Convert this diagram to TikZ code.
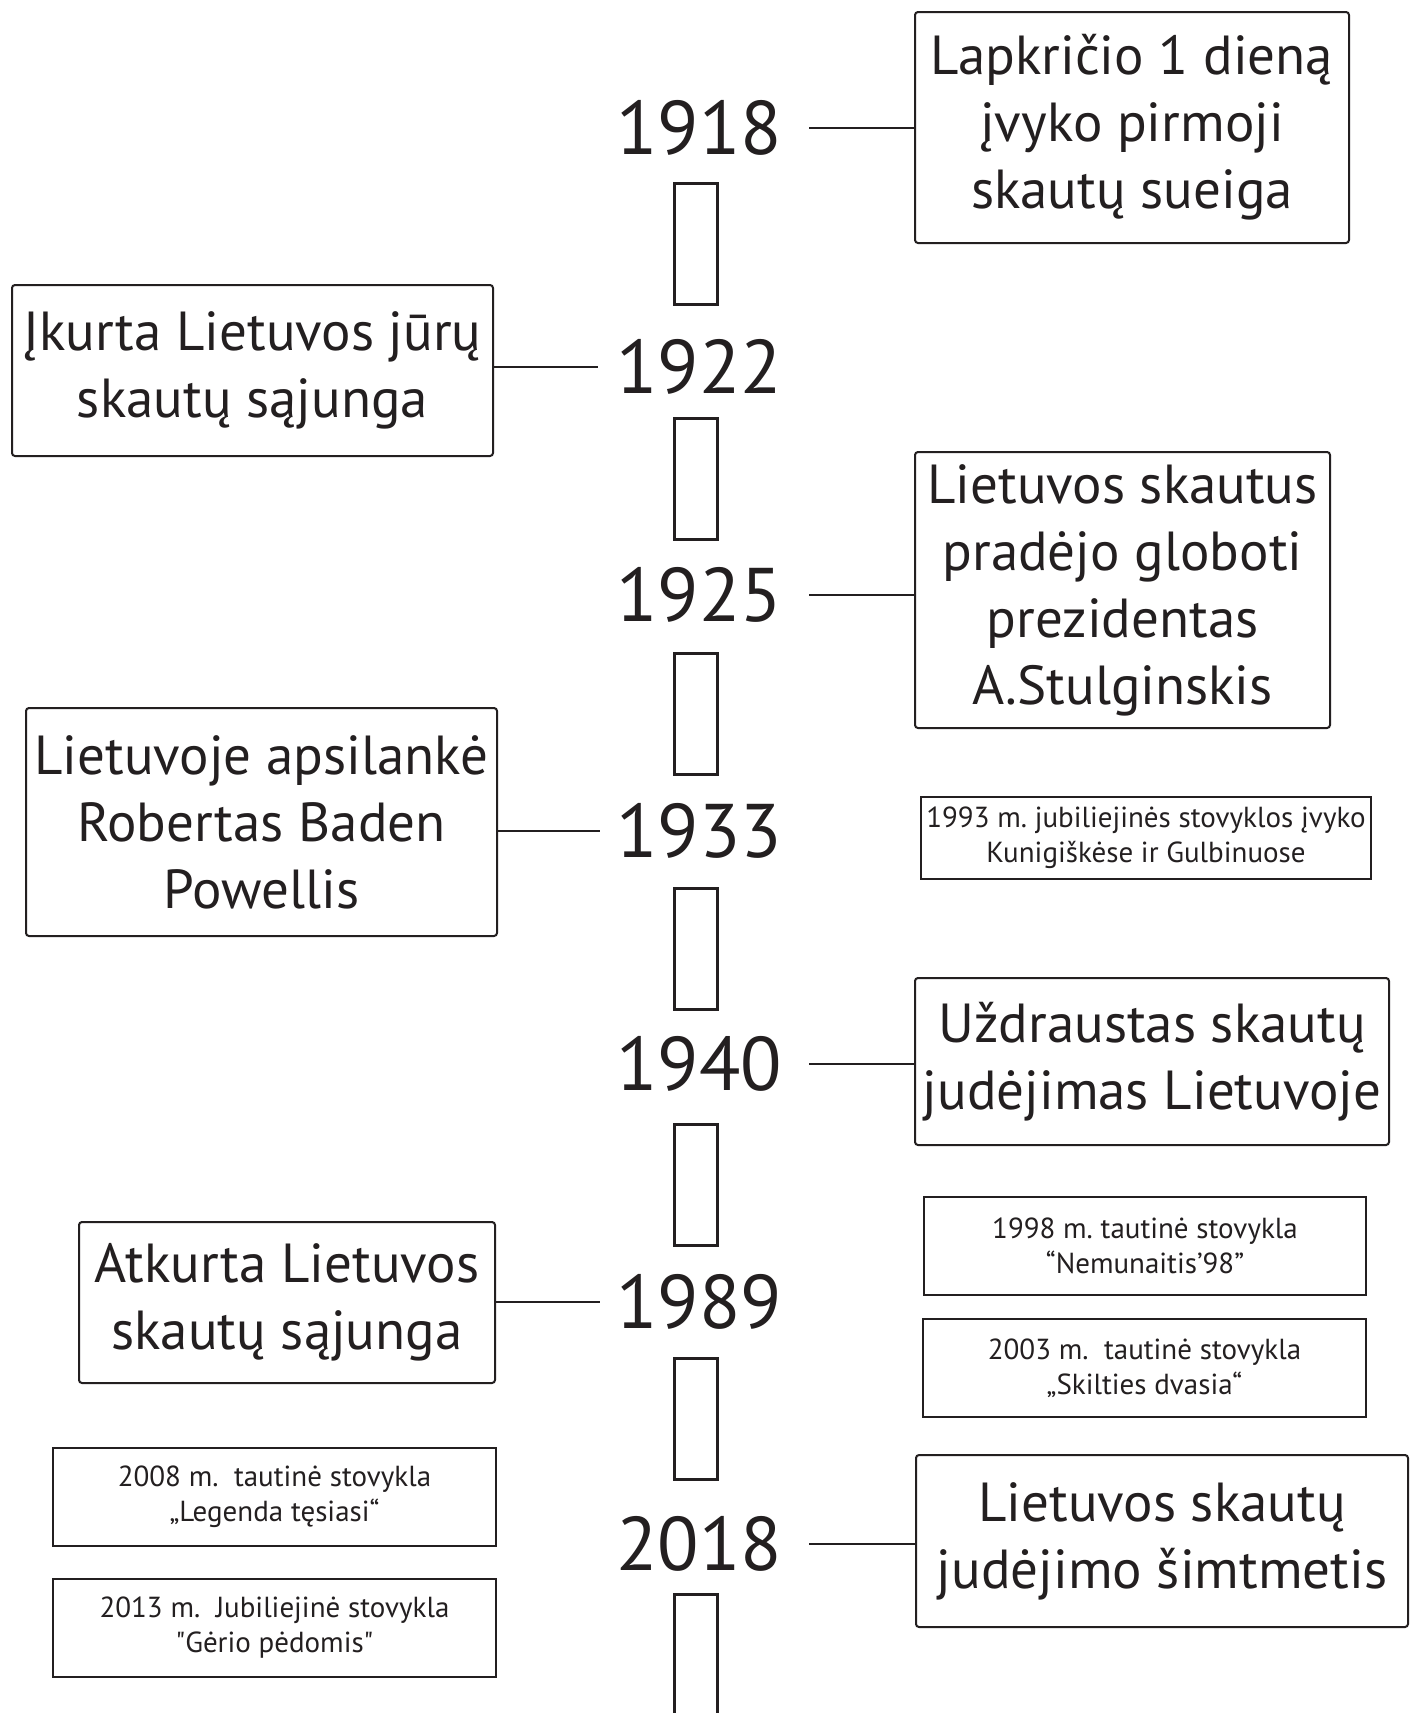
\documentclass[tikz,border=0pt]{standalone}
\usepackage{fontspec}
\setmainfont{PT Sans}
\setmonofont{PT Sans}
\frenchspacing
\definecolor{ink}{HTML}{231F20}
\newcommand{\sq}{{\ttfamily"}}
\tikzset{
  bigbox/.style={draw=ink, line width=2pt, rounded corners=3pt, align=center, text=ink,
    inner sep=0pt, font=\fontsize{55}{67}\selectfont},
  smallbox/.style={draw=ink, line width=2pt, align=center, text=ink,
    inner sep=0pt, font=\fontsize{29}{35}\selectfont},
  year/.style={inner sep=0pt, text=ink, font=\fontsize{76}{76}\selectfont},
  bar/.style={draw=ink, line width=3pt, minimum width=43pt, minimum height=121pt, inner sep=0pt},
  link/.style={draw=ink, line width=2.5pt}
}
\begin{document}
\begin{tikzpicture}[x=1pt,y=-1pt]
\useasboundingbox (0,0) rectangle (1419,1713);
\clip (0,0) rectangle (1419,1713);
\fill[white] (0,0) rectangle (1419,1713);

% years
\node[year] (y1918) at (699,128) {1918};
\node[year] (y1922) at (699,367) {1922};
\node[year] (y1925) at (699,595) {1925};
\node[year] (y1933) at (699,831) {1933};
\node[year] (y1940) at (699,1064) {1940};
\node[year] (y1989) at (699,1302) {1989};
\node[year] (y2018) at (699,1544) {2018};

% bars
\node[bar] (b1) at (696,244) {};
\node[bar] (b2) at (696,479) {};
\node[bar] (b3) at (696,714) {};
\node[bar] (b4) at (696,949) {};
\node[bar] (b5) at (696,1185) {};
\node[bar] (b6) at (696,1419) {};
\node[bar] (b7) at (696,1655) {};

% big boxes
\node[bigbox, minimum width=434pt, minimum height=231pt] (A) at (1132,127.5)
  {Lapkričio 1 dieną\\įvyko pirmoji\\skautų sueiga};
\node[bigbox, minimum width=481pt, minimum height=171pt] (B) at (252.5,370.5)
  {Įkurta Lietuvos jūrų\\skautų sąjunga};
\node[bigbox, minimum width=415pt, minimum height=276pt] (C) at (1122.5,590)
  {Lietuvos skautus\\pradėjo globoti\\prezidentas\\A.Stulginskis};
\node[bigbox, minimum width=471pt, minimum height=228pt] (D) at (261.5,822)
  {Lietuvoje apsilankė\\Robertas Baden\\Powellis};
\node[bigbox, minimum width=474pt, minimum height=167pt] (F) at (1152,1061.5)
  {Uždraustas skautų\\judėjimas Lietuvoje};
\node[bigbox, minimum width=416pt, minimum height=161pt] (G) at (287,1302.5)
  {Atkurta Lietuvos\\skautų sąjunga};
\node[bigbox, minimum width=492pt, minimum height=172pt] (L) at (1162,1541)
  {Lietuvos skautų\\judėjimo šimtmetis};

% small boxes
\node[smallbox, minimum width=450pt, minimum height=82pt] (E) at (1146,838)
  {1993 m. jubiliejinės stovyklos įvyko\\Kunigiškėse ir Gulbinuose};
\node[smallbox, minimum width=442pt, minimum height=98pt] (H) at (1145,1246)
  {1998 m. tautinė stovykla\\“Nemunaitis’98”};
\node[smallbox, minimum width=443pt, minimum height=98pt] (I) at (1144.5,1368)
  {2003 m.\ \ tautinė stovykla\\„Skilties dvasia“};
\node[smallbox, minimum width=443pt, minimum height=98pt] (J) at (274.5,1497)
  {2008 m.\ \ tautinė stovykla\\„Legenda tęsiasi“};
\node[smallbox, minimum width=443pt, minimum height=98pt] (K) at (274.5,1628)
  {2013 m.\ \ Jubiliejinė stovykla\\\sq Gėrio pėdomis\sq};

% connectors
\draw[link] ([xshift=27pt]y1918.east) -- (A.west |- y1918.east);
\draw[link] (B.east |- y1922.west) -- ([xshift=-18pt]y1922.west);
\draw[link] ([xshift=27pt]y1925.east) -- (C.west |- y1925.east);
\draw[link] (D.east |- y1933.west) -- ([xshift=-16pt]y1933.west);
\draw[link] ([xshift=27pt]y1940.east) -- (F.west |- y1940.east);
\draw[link] (G.east |- y1989.west) -- ([xshift=-16pt]y1989.west);
\draw[link] ([xshift=27pt]y2018.east) -- (L.west |- y2018.east);
\end{tikzpicture}
\end{document}
